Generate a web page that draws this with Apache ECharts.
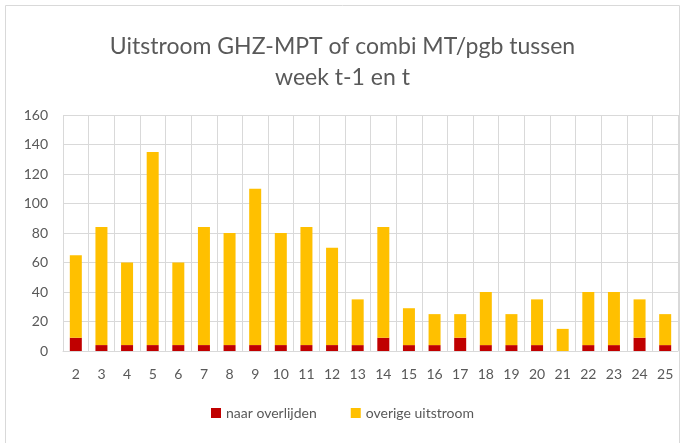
<!DOCTYPE html>
<html>
<head>
<meta charset="utf-8">
<script src="https://cdn.jsdelivr.net/npm/echarts@6/dist/echarts.min.js"></script>
<style>
  html, body { margin: 0; padding: 0; background: #fff; }
  #chart { width: 685px; height: 443px; }
</style>
</head>
<body>
<div id="chart"></div>
<script>
// weeknummers
const weeks = ['2','3','4','5','6','7','8','9','10','11','12','13','14','15','16','17','18','19','20','21','22','23','24','25'];

// uitstroom naar overlijden
const naarOverlijden = [9,4,4,4,4,4,4,4,4,4,4,4,9,4,4,9,4,4,4,0,4,4,9,4];

const totaal = [65,84,60,135,60,84,80,110,80,84,70,35,84,29,25,25,40,25,35,15,40,40,35,25];

// overige uitstroom = totaal - naar overlijden
const overigeUitstroom = totaal.map((t, i) => t - naarOverlijden[i]);

const yTicks = { min: 0, max: 160, interval: 20 };

const textColor = '#595959';
const font = 'Lato, "Open Sans", sans-serif';

const myChart = echarts.init(document.querySelector('#chart'));

myChart.setOption({
    animation: false,
    title: {
        text: 'Uitstroom GHZ-MPT of combi MT/pgb tussen\nweek t-1 en t',
        left: 'center',
        top: 26,
        textStyle: {
            color: textColor,
            fontFamily: font,
            fontWeight: 'normal',
            fontSize: 23,
            lineHeight: 31
        }
    },
    graphic: [{
        type: 'rect',
        shape: { x: 5.5, y: 5.5, width: 674, height: 440 },
        style: { fill: 'none', stroke: '#d9d9d9', lineWidth: 1 },
        silent: true
    }],
    legend: {
        bottom: 18,
        left: 'center',
        itemWidth: 10,
        itemHeight: 10,
        itemGap: 34,
        icon: 'rect',
        textStyle: { color: textColor, fontFamily: font, fontSize: 14 },
        data: ['naar overlijden', 'overige uitstroom']
    },
    grid: {
        left: 63,
        right: 7,
        top: 115,
        bottom: 92,
        containLabel: false
    },
    xAxis: {
        type: 'category',
        data: weeks,
        axisLine: { lineStyle: { color: '#d9d9d9' } },
        axisTick: { show: false },
        splitLine: { show: true, lineStyle: { color: '#d9d9d9', width: 1 } },
        axisLabel: { color: textColor, fontFamily: font, fontSize: 14, margin: 16, interval: 0 }
    },
    yAxis: {
        type: 'value',
        min: yTicks.min,
        max: yTicks.max,
        interval: yTicks.interval,
        axisLine: { show: false },
        axisTick: { show: false },
        splitLine: { lineStyle: { color: '#d9d9d9', width: 1 } },
        axisLabel: { color: textColor, fontFamily: font, fontSize: 14, margin: 15 }
    },
    series: [{
        name: 'naar overlijden',
        type: 'bar',
        stack: 'uitstroom',
        data: naarOverlijden,
        barWidth: 12,
        itemStyle: { color: '#c00000' }
    }, {
        name: 'overige uitstroom',
        type: 'bar',
        stack: 'uitstroom',
        data: overigeUitstroom,
        barWidth: 12,
        itemStyle: { color: '#ffc000' }
    }]
});
</script>
</body>
</html>
